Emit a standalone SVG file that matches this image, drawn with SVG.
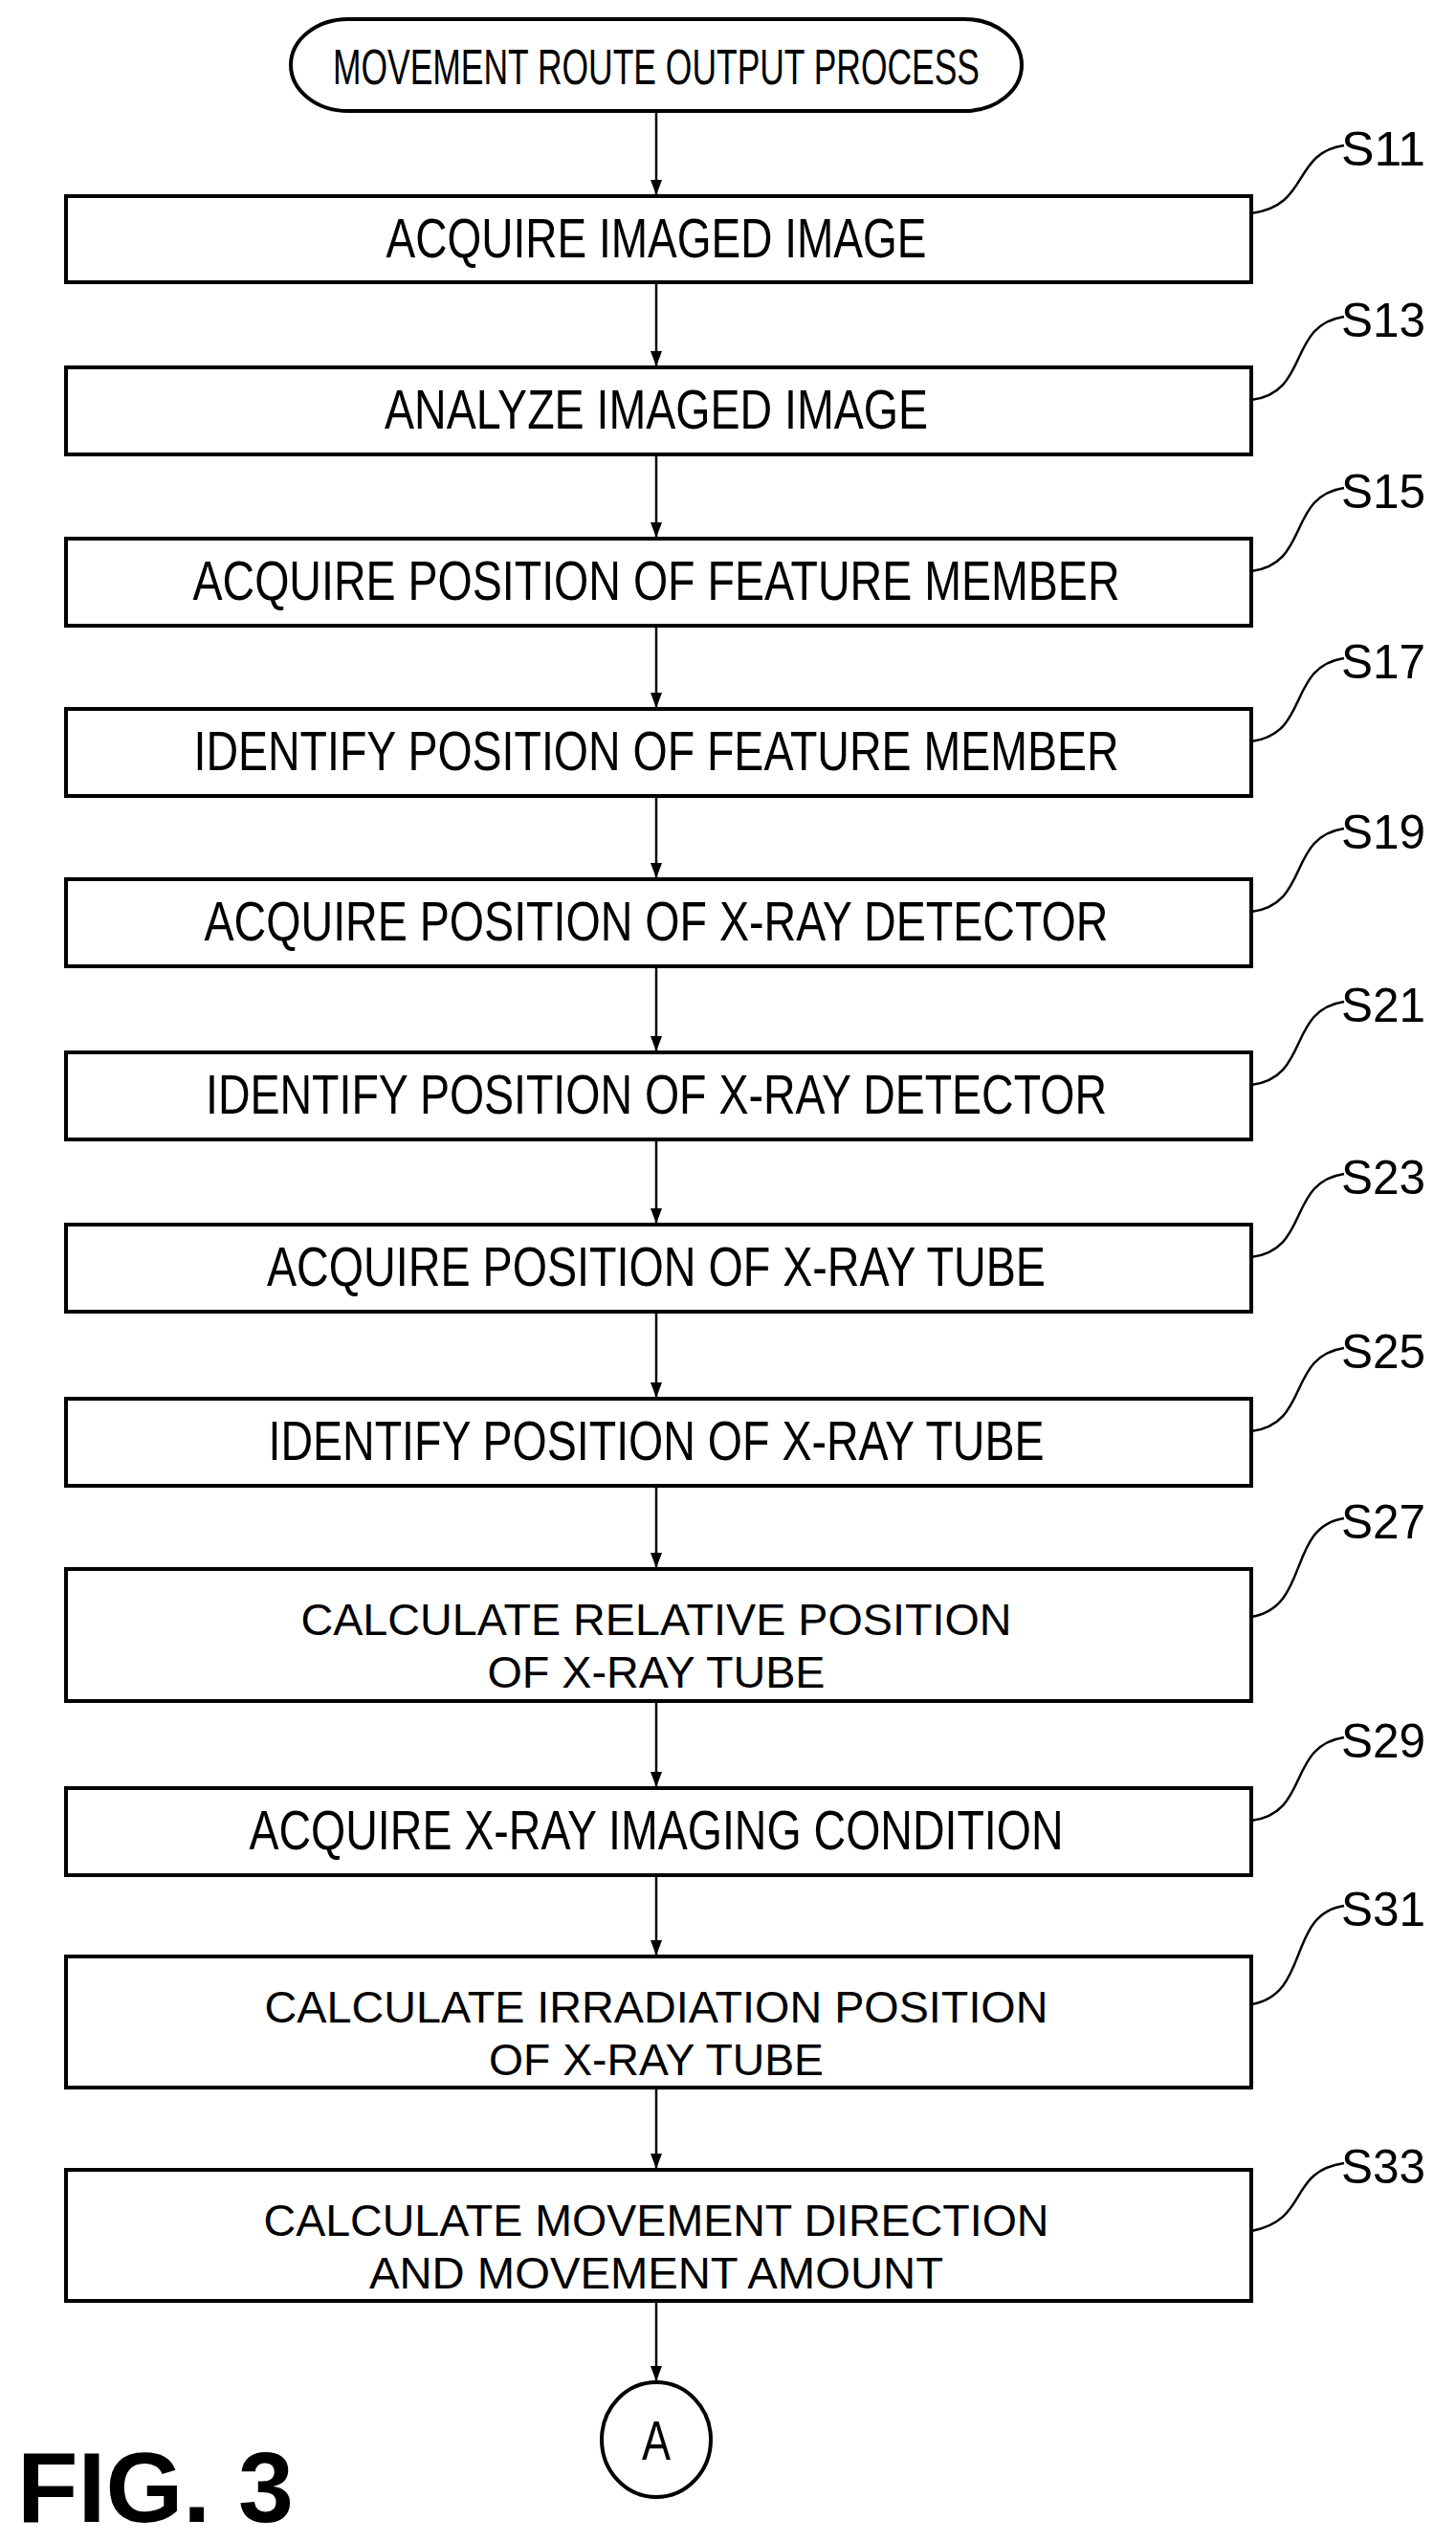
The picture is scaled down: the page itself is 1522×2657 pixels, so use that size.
<svg xmlns="http://www.w3.org/2000/svg" width="1522" height="2657" viewBox="0 0 1522 2657">
<style>
.b{fill:#fff;stroke:#000;stroke-width:4}
.t{font-family:"Liberation Sans",Arial,sans-serif;font-size:58px;text-anchor:middle;fill:#000}
.d{font-size:47px}
.s{font-family:"Liberation Sans",Arial,sans-serif;font-size:50px;fill:#000}
.l{fill:none;stroke:#000;stroke-width:2.5}
.c{stroke:#000;stroke-width:2.5;fill:none;marker-end:url(#ah)}
</style>
<defs><marker id="ah" markerWidth="16" markerHeight="12" refX="16" refY="6" orient="auto" markerUnits="userSpaceOnUse" viewBox="0 0 16 12"><path d="M0,0 L16,6 L0,12 Z" fill="#000"/></marker></defs>
<rect width="1522" height="2657" fill="#fff"/>
<g id="connectors">
<line class="c" x1="686" y1="116" x2="686" y2="204"/>
<line class="c" x1="686" y1="295" x2="686" y2="383"/>
<line class="c" x1="686" y1="475" x2="686" y2="562"/>
<line class="c" x1="686" y1="654" x2="686" y2="740"/>
<line class="c" x1="686" y1="832" x2="686" y2="918"/>
<line class="c" x1="686" y1="1010" x2="686" y2="1099"/>
<line class="c" x1="686" y1="1191" x2="686" y2="1279"/>
<line class="c" x1="686" y1="1371" x2="686" y2="1461"/>
<line class="c" x1="686" y1="1553" x2="686" y2="1639"/>
<line class="c" x1="686" y1="1778" x2="686" y2="1868"/>
<line class="c" x1="686" y1="1960" x2="686" y2="2044"/>
<line class="c" x1="686" y1="2182" x2="686" y2="2267"/>
<line class="c" x1="686" y1="2405" x2="686" y2="2489"/>
</g>
<g id="start"><rect class="b" x="304" y="20" width="764" height="96" rx="60" ry="48"/><text class="t" x="686" y="88" style="font-size:52px" textLength="676" lengthAdjust="spacingAndGlyphs">MOVEMENT ROUTE OUTPUT PROCESS</text></g>
<g id="s11"><rect class="b" x="69" y="205" width="1239" height="90"/><text class="t" x="686" y="269" textLength="565" lengthAdjust="spacingAndGlyphs">ACQUIRE IMAGED IMAGE</text><path class="l" d="M1308,223 C1370,215 1350,160 1405,152"/><text class="s" x="1402" y="173" textLength="88" lengthAdjust="spacingAndGlyphs">S11</text></g>
<g id="s13"><rect class="b" x="69" y="384" width="1239" height="91"/><text class="t" x="686" y="448" textLength="568" lengthAdjust="spacingAndGlyphs">ANALYZE IMAGED IMAGE</text><path class="l" d="M1308,418 C1370,410 1345,340 1405,331"/><text class="s" x="1402" y="352" textLength="88" lengthAdjust="spacingAndGlyphs">S13</text></g>
<g id="s15"><rect class="b" x="69" y="563" width="1239" height="91"/><text class="t" x="686" y="627" textLength="969" lengthAdjust="spacingAndGlyphs">ACQUIRE POSITION OF FEATURE MEMBER</text><path class="l" d="M1308,597 C1370,589 1345,519 1405,510"/><text class="s" x="1402" y="531" textLength="88" lengthAdjust="spacingAndGlyphs">S15</text></g>
<g id="s17"><rect class="b" x="69" y="741" width="1239" height="91"/><text class="t" x="686" y="805" textLength="967" lengthAdjust="spacingAndGlyphs">IDENTIFY POSITION OF FEATURE MEMBER</text><path class="l" d="M1308,775 C1370,767 1345,697 1405,688"/><text class="s" x="1402" y="709" textLength="88" lengthAdjust="spacingAndGlyphs">S17</text></g>
<g id="s19"><rect class="b" x="69" y="919" width="1239" height="91"/><text class="t" x="686" y="983" textLength="945" lengthAdjust="spacingAndGlyphs">ACQUIRE POSITION OF X-RAY DETECTOR</text><path class="l" d="M1308,953 C1370,945 1345,875 1405,866"/><text class="s" x="1402" y="887" textLength="88" lengthAdjust="spacingAndGlyphs">S19</text></g>
<g id="s21"><rect class="b" x="69" y="1100" width="1239" height="91"/><text class="t" x="686" y="1164" textLength="942" lengthAdjust="spacingAndGlyphs">IDENTIFY POSITION OF X-RAY DETECTOR</text><path class="l" d="M1308,1134 C1370,1126 1345,1056 1405,1047"/><text class="s" x="1402" y="1068" textLength="88" lengthAdjust="spacingAndGlyphs">S21</text></g>
<g id="s23"><rect class="b" x="69" y="1280" width="1239" height="91"/><text class="t" x="686" y="1344" textLength="814" lengthAdjust="spacingAndGlyphs">ACQUIRE POSITION OF X-RAY TUBE</text><path class="l" d="M1308,1314 C1370,1306 1345,1236 1405,1227"/><text class="s" x="1402" y="1248" textLength="88" lengthAdjust="spacingAndGlyphs">S23</text></g>
<g id="s25"><rect class="b" x="69" y="1462" width="1239" height="91"/><text class="t" x="686" y="1526" textLength="811" lengthAdjust="spacingAndGlyphs">IDENTIFY POSITION OF X-RAY TUBE</text><path class="l" d="M1308,1496 C1370,1488 1345,1418 1405,1409"/><text class="s" x="1402" y="1430" textLength="88" lengthAdjust="spacingAndGlyphs">S25</text></g>
<g id="s27"><rect class="b" x="69" y="1640" width="1239" height="138"/><text class="t d" x="686" y="1709" textLength="743" lengthAdjust="spacingAndGlyphs">CALCULATE RELATIVE POSITION</text><text class="t d" x="686" y="1764" textLength="353" lengthAdjust="spacingAndGlyphs">OF X-RAY TUBE</text><path class="l" d="M1308,1690 C1370,1680 1345,1596 1405,1587"/><text class="s" x="1402" y="1608" textLength="88" lengthAdjust="spacingAndGlyphs">S27</text></g>
<g id="s29"><rect class="b" x="69" y="1869" width="1239" height="91"/><text class="t" x="686" y="1933" textLength="851" lengthAdjust="spacingAndGlyphs">ACQUIRE X-RAY IMAGING CONDITION</text><path class="l" d="M1308,1903 C1370,1895 1345,1825 1405,1816"/><text class="s" x="1402" y="1837" textLength="88" lengthAdjust="spacingAndGlyphs">S29</text></g>
<g id="s31"><rect class="b" x="69" y="2045" width="1239" height="137"/><text class="t d" x="686" y="2114" textLength="819" lengthAdjust="spacingAndGlyphs">CALCULATE IRRADIATION POSITION</text><text class="t d" x="686" y="2169" textLength="350" lengthAdjust="spacingAndGlyphs">OF X-RAY TUBE</text><path class="l" d="M1308,2095 C1370,2085 1345,2001 1405,1992"/><text class="s" x="1402" y="2013" textLength="88" lengthAdjust="spacingAndGlyphs">S31</text></g>
<g id="s33"><rect class="b" x="69" y="2268" width="1239" height="137"/><text class="t d" x="686" y="2337" textLength="821" lengthAdjust="spacingAndGlyphs">CALCULATE MOVEMENT DIRECTION</text><text class="t d" x="686" y="2392" textLength="600" lengthAdjust="spacingAndGlyphs">AND MOVEMENT AMOUNT</text><path class="l" d="M1308,2332 C1370,2320 1345,2270 1405,2261"/><text class="s" x="1402" y="2282" textLength="88" lengthAdjust="spacingAndGlyphs">S33</text></g>
<g id="a"><ellipse class="b" cx="686" cy="2550" rx="57" ry="60"/><text class="t" x="686" y="2571" textLength="30" lengthAdjust="spacingAndGlyphs">A</text></g>
<text x="18" y="2636" style="font-family:'Liberation Sans',Arial,sans-serif;font-weight:bold;font-size:104px">FIG. 3</text>
</svg>
